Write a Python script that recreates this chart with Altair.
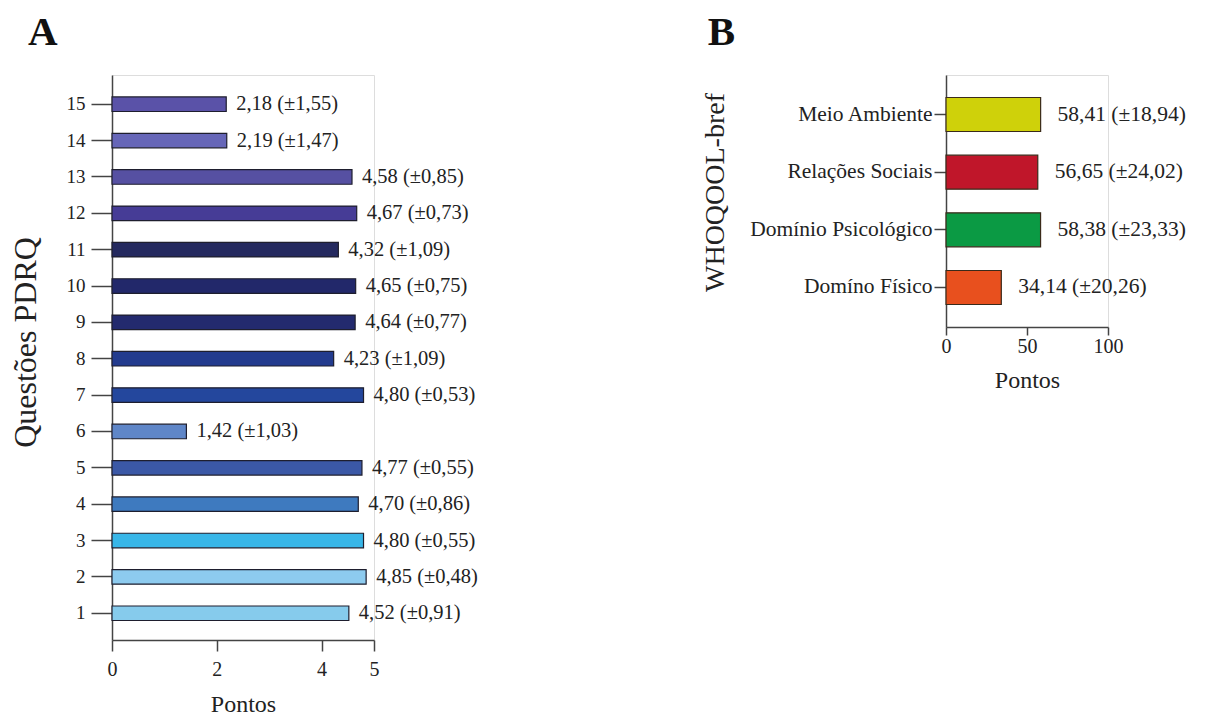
import altair as alt
import pandas as pd

FONT = "Liberation Serif"

# Panel A: PDRQ questions
questoes = list(range(1, 16))
medias_a = [4.52, 4.85, 4.80, 4.70, 4.77, 1.42, 4.80, 4.23, 4.64, 4.65, 4.32, 4.67, 4.58, 2.19, 2.18]
dp_a = [0.91, 0.48, 0.55, 0.86, 0.55, 1.03, 0.53, 1.09, 0.77, 0.75, 1.09, 0.73, 0.85, 1.47, 1.55]
cores_a = ["#86cbec", "#8dcbef", "#38b6e8", "#3e7abf", "#3b58a6", "#5f86c8", "#24479d",
           "#233b8e", "#232a6e", "#22286a", "#24295f", "#463c96", "#5650a2", "#6666b8", "#5a52a8"]

# Panel B: WHOQOL-bref domains
dominios = ["Meio Ambiente", "Relações Sociais", "Domínio Psicológico", "Domíno Físico"]
medias_b = [58.41, 56.65, 58.38, 34.14]
dp_b = [18.94, 24.02, 23.33, 20.26]
cores_b = ["#cfd10a", "#c0162a", "#0b9a44", "#e8501e"]


def rotulo(m, s):
    return f"{m:.2f} (±{s:.2f})".replace(".", ",")


df_a = pd.DataFrame({
    "q": questoes, "m": medias_a,
    "lab": [rotulo(m, s) for m, s in zip(medias_a, dp_a)],
    "cor": cores_a,
})
df_b = pd.DataFrame({
    "d": dominios, "m": medias_b,
    "lab": [rotulo(m, s) for m, s in zip(medias_b, dp_b)],
    "cor": cores_b,
})

ordem_a = sorted(questoes, reverse=True)
AX = dict(domainColor="#444", domainWidth=1.5, tickColor="#444", tickWidth=1.5,
          labelFont=FONT, labelColor="#222", titleFont=FONT, titleFontWeight="normal",
          titleColor="#222", grid=False, labelLimit=400)

xa = alt.X("m:Q", scale=alt.Scale(domain=[0, 5], nice=False),
           axis=alt.Axis(values=[0, 2, 4, 5], tickSize=11, labelFontSize=20, labelPadding=8,
                         labelFlush=False, title="Pontos", titleFontSize=24, titlePadding=13,
                         **AX))
ya = alt.Y("q:O", sort=ordem_a,
           scale=alt.Scale(paddingInner=0.6, paddingOuter=0.57, align=0.53),
           axis=alt.Axis(tickSize=21, labelFontSize=19, labelPadding=6, labelAngle=0,
                         title="Questões PDRQ", titleFontSize=32, titlePadding=24,
                         titleY=267, **AX))

base_a = alt.Chart(df_a)
bars_a = base_a.mark_bar(stroke="#1e1e2e", strokeWidth=1.2).encode(
    x=xa, y=ya, fill=alt.Fill("cor:N", scale=None))
text_a = base_a.mark_text(align="left", dx=10, fontSize=20.5, font=FONT, color="#222").encode(
    x="m:Q", y=alt.Y("q:O", sort=ordem_a), text="lab:N")
chart_a = alt.layer(bars_a, text_a).properties(
    width=262, height=565,
    title=alt.TitleParams("A", anchor="start", fontSize=41, font=FONT, fontWeight="bold",
                          color="#111", dx=19, offset=21))

xb = alt.X("m:Q", scale=alt.Scale(domain=[0, 100], nice=False),
           axis=alt.Axis(values=[0, 50, 100], tickSize=8, labelFontSize=20, labelPadding=1,
                         labelFlush=False, title="Pontos", titleFontSize=24, titlePadding=12,
                         **AX))
yb = alt.Y("d:N", sort=dominios,
           scale=alt.Scale(paddingInner=0.41, paddingOuter=0.39, align=0.5),
           axis=alt.Axis(tickSize=12, labelFontSize=21.5, labelPadding=2,
                         title="WHOQOOL-bref", titleFontSize=28, titlePadding=20,
                         titleY=117, **AX))

base_b = alt.Chart(df_b)
bars_b = base_b.mark_bar(stroke="#3a2a1a", strokeWidth=1.2).encode(
    x=xb, y=yb, fill=alt.Fill("cor:N", scale=None))
text_b = base_b.mark_text(align="left", dx=17, fontSize=21.5, font=FONT, color="#222").encode(
    x="m:Q", y=alt.Y("d:N", sort=dominios), text="lab:N")
chart_b = alt.layer(bars_b, text_b).properties(
    width=162, height=252,
    title=alt.TitleParams("B", anchor="start", fontSize=41, font=FONT, fontWeight="bold",
                          color="#111", dx=6, offset=21))

chart = alt.hconcat(chart_a, chart_b, spacing=222).properties(
    padding={"left": 0, "top": 3, "right": 5, "bottom": 0}
).configure_view(strokeWidth=0).configure(background="white")

chart.save("out.html", embed_options={"renderer": "svg", "actions": False})
